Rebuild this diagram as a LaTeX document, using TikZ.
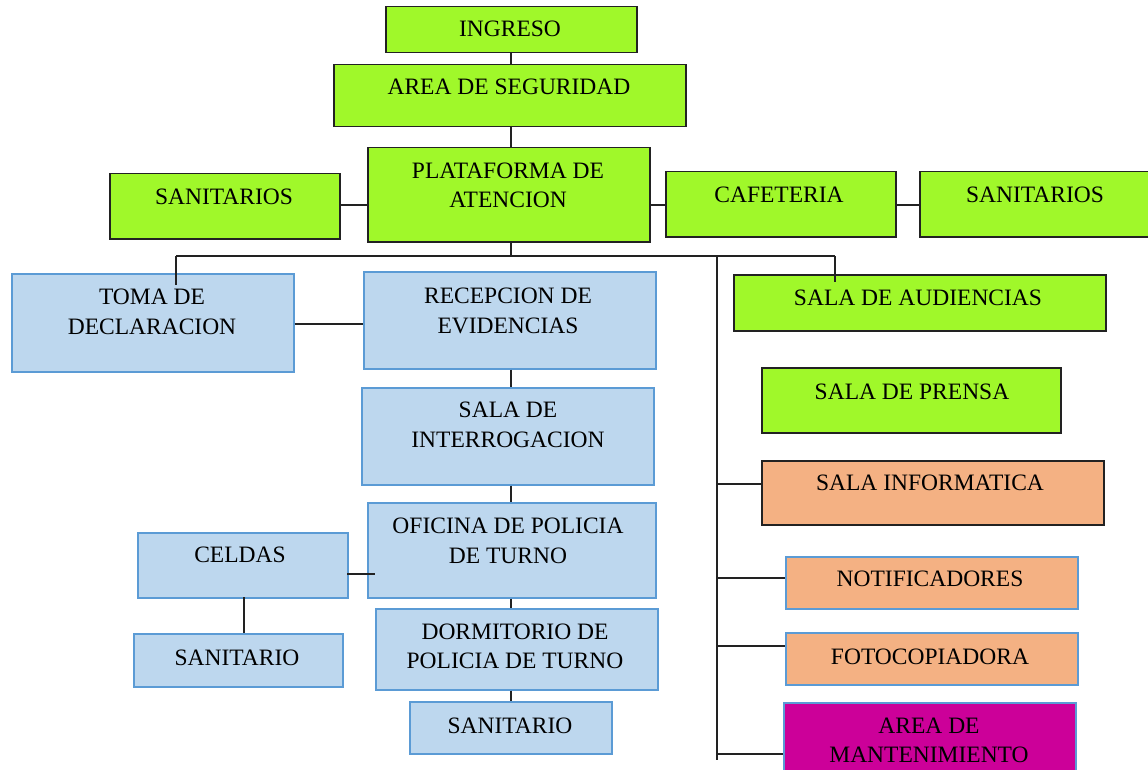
\documentclass[tikz,border=0pt]{standalone}
\usepackage{fontspec}
\setmainfont{Liberation Serif}
\definecolor{gfill}{HTML}{A0F82A}
\definecolor{bfill}{HTML}{BDD7EE}
\definecolor{bline}{HTML}{5B9BD5}
\definecolor{ofill}{HTML}{F4B183}
\definecolor{mfill}{HTML}{CC0099}
\definecolor{lncol}{HTML}{222222}
\tikzset{
 box/.style={rectangle, inner sep=0pt, line width=1.5pt},
 gbox/.style={box, fill=gfill, draw=lncol},
 bbox/.style={box, fill=bfill, draw=bline},
 obox/.style={box, fill=ofill, draw=lncol},
 oboxb/.style={box, fill=ofill, draw=bline},
 mbox/.style={box, fill=mfill, draw=bline},
 txt/.style={font=\fontsize{23.5}{29.5}\selectfont, align=center, inner sep=0pt, text=black},
 conn/.style={line width=1.4pt, draw=lncol},
}
\newcommand\mkbox[6]{\node[#6, anchor=north west, minimum width={(#4)-(#2)}, minimum height={(#5)-(#3)}] (#1) at (#2,#3) {};}
\begin{document}
\begin{tikzpicture}[x=1pt,y=-1pt]
\useasboundingbox (0,0) rectangle (1148,770);
\clip (0,0) rectangle (1148,770);
% boxes
\mkbox{ingreso}{385}{6}{636}{52}{gbox}
\mkbox{seg}{333}{64}{685}{126}{gbox}
\mkbox{plat}{367}{147}{649}{241}{gbox}
\mkbox{sanL}{109}{173}{339}{238}{gbox}
\mkbox{cafe}{665}{171}{895}{236}{gbox}
\mkbox{sanR}{919}{171}{1160}{236}{gbox}
\mkbox{toma}{11}{273}{293}{371}{bbox}
\mkbox{rec}{363}{271}{655}{368}{bbox}
\mkbox{aud}{733}{274}{1105}{330}{gbox}
\mkbox{prensa}{761}{367}{1060}{432}{gbox}
\mkbox{interr}{361}{387}{653}{484}{bbox}
\mkbox{info}{761}{460}{1103}{524}{obox}
\mkbox{ofi}{367}{502}{655}{597}{bbox}
\mkbox{celdas}{137}{532}{347}{597}{bbox}
\mkbox{notif}{785}{556}{1077}{608}{oboxb}
\mkbox{dorm}{375}{608}{657}{689}{bbox}
\mkbox{sanLL}{133}{633}{342}{686}{bbox}
\mkbox{foto}{785}{632}{1077}{684}{oboxb}
\mkbox{sanB}{409}{701}{611}{753}{bbox}
\mkbox{mant}{783}{702}{1075}{790}{mbox}
% texts
\node[txt] (ingreso-t) at (510,29) {INGRESO};
\node[txt] (seg-t) at (509,87) {AREA DE SEGURIDAD};
\node[txt] (plat-t) at (508,185.5) {PLATAFORMA DE\\ATENCION};
\node[txt] (sanL-t) at (224,197) {SANITARIOS};
\node[txt] (cafe-t) at (779,195) {CAFETERIA};
\node[txt] (sanR-t) at (1035,195) {SANITARIOS};
\node[txt] (toma-t) at (152,312) {TOMA DE\\DECLARACION};
\node[txt] (rec-t) at (508,311) {RECEPCION DE\\EVIDENCIAS};
\node[txt] (aud-t) at (918,298) {SALA DE AUDIENCIAS};
\node[txt] (prensa-t) at (912,392) {SALA DE PRENSA};
\node[txt] (interr-t) at (508,425) {SALA DE\\INTERROGACION};
\node[txt] (info-t) at (930,483) {SALA INFORMATICA};
\node[txt] (ofi-t) at (508,541) {OFICINA DE POLICIA\\DE TURNO};
\node[txt] (celdas-t) at (240,555) {CELDAS};
\node[txt] (notif-t) at (930,579) {NOTIFICADORES};
\node[txt] (dorm-t) at (515,646.5) {DORMITORIO DE\\POLICIA DE TURNO};
\node[txt] (sanLL-t) at (237,658) {SANITARIO};
\node[txt] (foto-t) at (930,657) {FOTOCOPIADORA};
\node[txt] (sanB-t) at (510,726) {SANITARIO};
\node[txt] (mant-t) at (929,740.5) {AREA DE\\MANTENIMIENTO};
% coordinates
\coordinate (bus) at (511,256);
\coordinate (busL) at (176,256);
\coordinate (busR) at (835,256);
\coordinate (trunk) at (717,256);
\coordinate (trunkEnd) at (717,760);
\coordinate (tomaIn) at (176,285);
\coordinate (audIn) at (835,282);
\coordinate (t1) at (717,484);
\coordinate (t2) at (717,578);
\coordinate (t3) at (717,646);
\coordinate (t4) at (717,754);
\coordinate (c1) at (347,574);
\coordinate (c2) at (375,574);
% connectors
\draw[conn] (511,52) coordinate (a1) -- (a1 |- seg.north);
\draw[conn] (511,126) coordinate (a2) -- (a2 |- plat.north);
\draw[conn] (sanL.east |- 0,205) coordinate (a3) -- (a3 -| plat.west);
\draw[conn] (plat.east |- 0,205) coordinate (a4) -- (a4 -| cafe.west);
\draw[conn] (cafe.east |- 0,205) coordinate (a5) -- (a5 -| sanR.west);
\draw[conn] (bus |- plat.south) -- (bus);
\draw[conn] (busL) -- (busR);
\draw[conn] (busL) -- (tomaIn);
\draw[conn] (busR) -- (audIn);
\draw[conn] (trunk) -- (trunkEnd);
\draw[conn] (toma.east |- 0,324) coordinate (a6) -- (a6 -| rec.west);
\draw[conn] (bus |- rec.south) -- (bus |- interr.north);
\draw[conn] (bus |- interr.south) -- (bus |- ofi.north);
\draw[conn] (bus |- ofi.south) -- (bus |- dorm.north);
\draw[conn] (bus |- dorm.south) -- (bus |- sanB.north);
\draw[conn] (c1) -- (c2);
\draw[conn] (244,597) coordinate (a7) -- (a7 |- sanLL.north);
\draw[conn] (t1) -- (t1 -| info.west);
\draw[conn] (t2) -- (t2 -| notif.west);
\draw[conn] (t3) -- (t3 -| foto.west);
\draw[conn] (t4) -- (t4 -| mant.west);
\end{tikzpicture}
\end{document}
